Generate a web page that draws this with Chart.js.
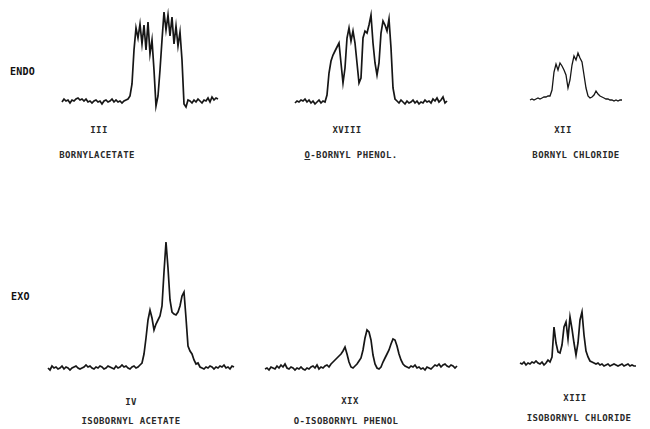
<!DOCTYPE html>
<html lang="en">
<head>
<meta charset="UTF-8">
<title>Endo / Exo spectra</title>
<script src="https://cdn.jsdelivr.net/npm/chart.js"></script>
<style>
  body { margin: 0; background: #fff; }
  #page { position: relative; width: 650px; height: 429px; overflow: hidden; background: #fff; }
  #page canvas { position: absolute; }
  .lbl {
    position: absolute; transform: translate(-50%, -50%); white-space: nowrap;
    font-family: "DejaVu Sans Mono", monospace; font-size: 9px; font-weight: bold;
    letter-spacing: 0.4px; color: #2a2a2a;
  }
  .side { position: absolute; transform: translateY(-50%); font-family: "DejaVu Sans Mono", monospace;
    font-size: 10px; font-weight: bold; letter-spacing: 0.2px; color: #111; }
</style>
</head>
<body>
<div id="page"></div>

<script>
// spectrum names and compound numbers (top row = endo, bottom row = exo)
const numerals = ['III', 'XVIII', 'XII', 'IV', 'XIX', 'XIII'];
const names = ['BORNYLACETATE', 'O-BORNYL PHENOL.', 'BORNYL CHLORIDE',
               'ISOBORNYL ACETATE', 'O-ISOBORNYL PHENOL', 'ISOBORNYL CHLORIDE'];
const rowLabels = ['ENDO', 'EXO'];

// intensities (relative to baseline), evenly spaced along each trace
const bornylAcetate = [0,3,1,2,-1,2,1,3,4,2,3,1,3,0,1,-1,1,2,0,1,-2,1,2,0,1,3,0,2,0,1,-1,1,2,3,
  6,18,52,74,64,78,58,77,52,80,48,62,32,-4,6,32,62,90,72,87,66,85,58,76,56,70,42,-2,-5,
  2,1,-1,2,0,3,1,-1,2,1,4,0,5,2,4,3];
const bornylPhenol = [0,2,1,3,2,4,1,3,0,2,-1,1,3,0,2,1,
  8,30,42,48,52,56,60,40,20,35,65,75,62,72,60,40,20,25,65,72,70,78,88,60,40,28,40,70,82,78,72,84,55,15,4,
  2,0,3,1,-1,2,0,1,3,0,2,-1,1,0,3,1,2,0,4,2,5,1,3,6,0,2];
const bornylChloride = [0,1,0,1,2,1,2,3,3,4,4,
  10,28,36,30,37,34,30,25,12,20,35,44,40,47,42,38,25,12,4,2,3,5,9,6,4,3,2,1,1,0,0,-1,0,-1,0,0];
const isobornylAcetate = [0,-2,2,0,1,-1,0,2,-1,1,0,-2,0,1,2,0,-1,0,1,3,1,2,0,-1,1,0,2,1,-1,0,2,1,0,-1,2,0,1,3,1,2,0,-1,1,2,0,1,3,
  5,14,30,48,58,50,38,44,48,52,62,96,126,100,68,56,54,53,56,62,72,76,50,22,17,
  14,8,4,5,1,0,-1,1,0,2,1,-1,1,0,2,1,3,0,1,-1,2,1];
const isobornylPhenol = [1,2,0,3,2,1,4,2,5,3,6,2,1,3,2,0,2,1,3,1,0,2,1,3,4,2,5,1,3,2,4,5,3,6,8,
  10,12,14,16,19,23,16,8,3,2,4,6,9,12,20,32,40,38,30,15,6,2,1,3,8,12,16,20,26,31,30,24,16,10,6,
  4,3,2,4,3,5,2,3,1,2,0,3,2,1,3,5,4,6,3,5,6,4,3,5,4,2,4];
const isobornylChloride = [2,1,3,0,2,1,3,2,4,2,1,3,0,2,5,3,
  8,38,22,13,12,20,38,43,26,48,36,22,10,22,45,53,30,14,8,4,3,2,1,2,0,1,-1,0,1,-1,0,1,0,-1,0,1,-1,0,1,-1,0,-1,-1];

const series = [bornylAcetate, bornylPhenol, bornylChloride, isobornylAcetate, isobornylPhenol, isobornylChloride];

// where each trace sits on the page: first/last point x, baseline y
const boxes = [
  { x0: 62,  x1: 218, base: 102 },
  { x0: 295, x1: 447, base: 103 },
  { x0: 530, x1: 622, base: 100 },
  { x0: 48,  x1: 234, base: 368 },
  { x0: 265, x1: 457, base: 370 },
  { x0: 520, x1: 636, base: 365 }
];
const numPos = [[99,130],[347,130],[563,130],[131,402],[350,401],[575,398]];
const namePos = [[97,155],[351,155],[576,155],[131,421],[346,421],[579,418]];
const rowPos = [[10,71],[11,296]];

const page = document.getElementById('page');
const PAD = 4, ABOVE = 130, BELOW = 20;

series.forEach((vals, i) => {
  const b = boxes[i];
  const cv = document.createElement('canvas');
  const w = b.x1 - b.x0 + 2 * PAD, h = ABOVE + BELOW;
  cv.width = w; cv.height = h;
  cv.style.left = (b.x0 - PAD) + 'px';
  cv.style.top = (b.base - ABOVE) + 'px';
  cv.style.width = w + 'px'; cv.style.height = h + 'px';
  page.appendChild(cv);

  new Chart(cv.getContext('2d'), {
    type: 'line',
    data: {
      datasets: [{
        data: vals.map((v, k) => ({ x: k, y: v })),
        borderColor: '#161616',
        borderWidth: i === 2 ? 1.3 : 1.7,
        pointRadius: 0,
        tension: 0,
        clip: false
      }]
    },
    options: {
      responsive: false,
      animation: false,
      layout: { padding: { left: PAD, right: PAD, top: 0, bottom: 0 } },
      plugins: { legend: { display: false }, tooltip: { enabled: false } },
      scales: {
        x: { type: 'linear', display: false, min: 0, max: vals.length - 1 },
        y: { display: false, min: -BELOW, max: ABOVE }
      }
    }
  });
});

function addLabel(text, pos, cls) {
  const d = document.createElement('div');
  d.className = cls;
  d.style.left = pos[0] + 'px';
  d.style.top = pos[1] + 'px';
  d.textContent = text;
  page.appendChild(d);
  return d;
}

numerals.forEach((t, i) => addLabel(t, numPos[i], 'lbl'));
names.forEach((t, i) => {
  const d = addLabel(t, namePos[i], 'lbl');
  if (i === 1) {
    // the O of o-bornyl phenol is underlined in the original
    d.innerHTML = '<span style="text-decoration:underline">O</span>' + t.slice(1);
  }
});
rowLabels.forEach((t, i) => addLabel(t, rowPos[i], 'side'));
</script>
</body>
</html>
